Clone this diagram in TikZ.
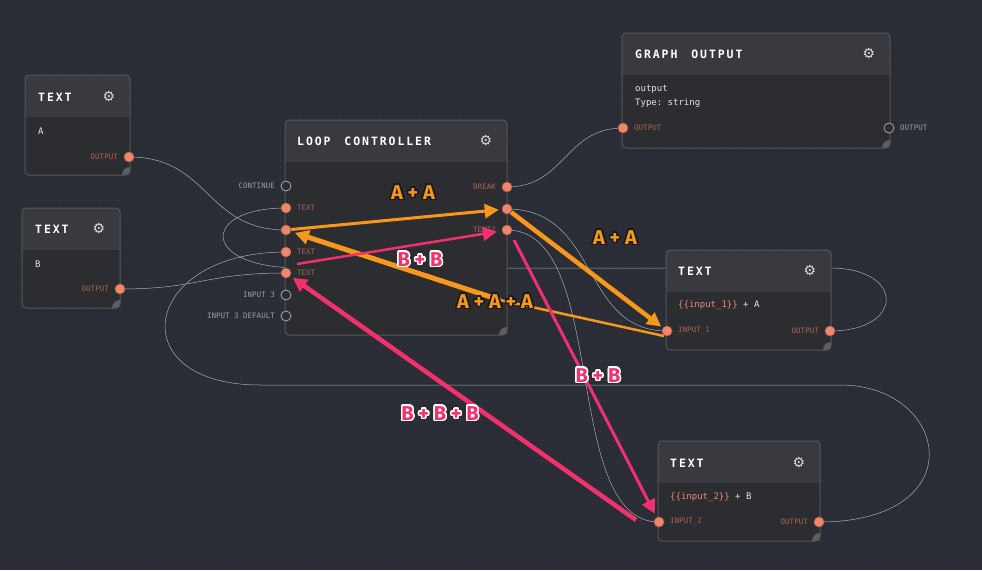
\documentclass[tikz,border=0pt]{standalone}
\usepackage{fontspec}
\setmonofont{DejaVu Sans Mono}
\newfontfamily\lbl{Fira Sans}
\newfontfamily\sym{DejaVu Sans}
\usepackage{contour}
\contournumber{20}
\contourlength{1.5pt}
\usetikzlibrary{arrows.meta}
\definecolor{bg}{HTML}{2A2D35}
\definecolor{nbody}{HTML}{2C2D31}
\definecolor{nhead}{HTML}{393A3E}
\definecolor{nborder}{HTML}{55565A}
\definecolor{port}{HTML}{F0876A}
\definecolor{plab}{HTML}{A8644E}
\definecolor{glab}{HTML}{9A9CA2}
\definecolor{org}{HTML}{F7981D}
\definecolor{pnk}{HTML}{F2306C}
\definecolor{wire}{HTML}{A9ABB0}
\definecolor{ink}{HTML}{1A1A1A}
\begin{document}
\begin{tikzpicture}[x=1pt,y=-1pt,
  title/.style={font=\ttfamily\bfseries\fontsize{11.5}{12}\selectfont,text=white,anchor=west,inner sep=0},
  body/.style={font=\ttfamily\fontsize{9}{10}\selectfont,text=white!90!black,anchor=west,inner sep=0},
  tl/.style={font=\ttfamily\fontsize{7.5}{8}\selectfont,text=plab,inner sep=0},
  gl/.style={font=\ttfamily\fontsize{7.5}{8}\selectfont,text=glab,inner sep=0},
  pin/.style={circle,fill=port,draw=port!70!black,line width=0.6pt,minimum size=10pt,inner sep=0},
  pout/.style={circle,fill=nbody,draw=glab,line width=0.9pt,minimum size=10pt,inner sep=0},
  gear/.style={font=\sym\fontsize{14}{14}\selectfont,text=white!85!black,inner sep=0},
  wr/.style={draw=wire,line width=0.5pt},
  oa/.style={draw=org,line width=#1,-{Triangle[length=14pt,width=14pt]}},
  pa/.style={draw=pnk,line width=#1,-{Triangle[length=14pt,width=14pt]}},
  al/.style={font=\lbl\bfseries\fontsize{20}{20}\selectfont,inner sep=0}]
\useasboundingbox (0,0) rectangle (982,570);
\fill[bg] (0,0) rectangle (982,570);
\foreach \x in {0,20,...,980} \draw[white,opacity=0.025] (\x,0)--(\x,570);
\foreach \y in {0,20,...,560} \draw[white,opacity=0.025] (0,\y)--(982,\y);
\newcommand\nd[6]{%
  \fill[nbody,rounded corners=4pt] (#1,#2) rectangle (#3,#4);
  \begin{scope}
  \clip[rounded corners=4pt] (#1,#2) rectangle (#3,#4);
  \fill[nhead] (#1,#2) rectangle (#3,#5);
  \fill[glab!60!black] (#3,#4) circle (8pt);
  \end{scope}
  \draw[nborder,line width=1pt,rounded corners=4pt] (#1,#2) rectangle (#3,#4);
  \coordinate (#6) at (#1,#2);}
% wires
\coordinate (w1) at (830,268);
\coordinate (w2) at (300,268);
\coordinate (w3) at (840,385);
\coordinate (w4) at (260,385);
\draw[wr] (129,157) .. controls (210,157) and (205,230) .. (286,230);
\draw[wr] (120,289) .. controls (200,289) and (205,273) .. (286,273);
\draw[wr] (507,187) .. controls (565,187) and (565,128) .. (623,128);
\draw[wr] (507,209) .. controls (600,209) and (580,331) .. (667,331);
\draw[wr] (507,230) .. controls (610,230) and (560,522) .. (659,522);
\draw[wr] (830,331) .. controls (905,331) and (905,268) .. (w1) -- (w2) .. controls (200,268) and (200,208) .. (286,208);
\draw[wr] (819,522) .. controls (975,522) and (950,385) .. (w3) -- (w4) .. controls (120,385) and (140,252) .. (286,252);
% nodes
\nd{25}{75}{130}{175}{117}{na}
\nd{22}{208}{120}{308}{250}{nb}
\nd{285}{120}{507}{335}{162}{nl}
\nd{622}{33}{890}{148}{75}{ng}
\nd{666}{250}{831}{350}{292}{n1}
\nd{658}{441}{820}{541}{483}{n2}
\node[title] (ta) at (38,97) {T\,E\,X\,T};
\node[gear] (ga) at (109,97) {⚙};
\node[body] (va) at (38,131) {A};
\node[title] (tb) at (35,229) {T\,E\,X\,T};
\node[gear] (gb) at (99,229) {⚙};
\node[body] (vb) at (35,264) {B};
\node[title] (tlp) at (297,141) {L\,O\,O\,P\ \ C\,O\,N\,T\,R\,O\,L\,L\,E\,R};
\node[gear] (glp) at (486,141) {⚙};
\node[title] (tg) at (635,54) {G\,R\,A\,P\,H\ \ O\,U\,T\,P\,U\,T};
\node[gear] (gg) at (869,54) {⚙};
\node[body] (vg1) at (635,89) {output};
\node[body] (vg2) at (635,103) {Type: string};
\node[title] (t1) at (678,271) {T\,E\,X\,T};
\node[gear] (g1) at (810,271) {⚙};
\node[body] (v1) at (678,305) {\textcolor{port}{\{\{input\_1\}\}} + A};
\node[title] (t2) at (670,463) {T\,E\,X\,T};
\node[gear] (g2) at (799,463) {⚙};
\node[body] (v2) at (670,497) {\textcolor{port}{\{\{input\_2\}\}} + B};
% ports
\node[pin] (aout) at (129,157) {};
\node[tl,anchor=east] at (118,157) {OUTPUT};
\node[pin] (bout) at (120,289) {};
\node[tl,anchor=east] at (109,289) {OUTPUT};
\node[pout] (lcont) at (286,186) {};
\node[gl,anchor=east] at (275,186) {CONTINUE};
\node[pin] (lt1) at (286,208) {};
\node[tl,anchor=west] at (297,208) {TEXT};
\node[pin] (lx) at (286,230) {};
\node[pin] (lt2) at (286,252) {};
\node[tl,anchor=west] at (297,252) {TEXT};
\node[pin] (lt3) at (286,273) {};
\node[tl,anchor=west] at (297,273) {TEXT};
\node[pout] (li3) at (286,295) {};
\node[gl,anchor=east] at (275,295) {INPUT 3};
\node[pout] (li3d) at (286,316) {};
\node[gl,anchor=east] at (275,316) {INPUT 3 DEFAULT};
\node[pin] (lbrk) at (507,187) {};
\node[tl,anchor=east] at (496,187) {BREAK};
\node[pin] (lr2) at (507,209) {};
\node[pin] (ltq) at (507,230) {};
\node[tl,anchor=east] at (496,230) {TEXT?};
\node[pin] (gin) at (623,128) {};
\node[tl,anchor=west] at (634,128) {OUTPUT};
\node[pout] (gout) at (889,128) {};
\node[gl,anchor=west] at (900,128) {OUTPUT};
\node[pin] (i1) at (667,331) {};
\node[tl,anchor=west] at (678,331) {INPUT\_1};
\node[pin] (o1) at (830,331) {};
\node[tl,anchor=east] at (819,331) {OUTPUT};
\node[pin] (i2) at (659,522) {};
\node[tl,anchor=west] at (670,522) {INPUT\_2};
\node[pin] (o2) at (819,522) {};
\node[tl,anchor=east] at (808,522) {OUTPUT};
% colored arrows
\coordinate (c1) at (514,240);
\coordinate (c2) at (636,520);
\coordinate (c3) at (297,264);
\coordinate (c4) at (500,300);
\draw[oa=3pt,shorten >=3pt] (lx) -- (lr2);
\draw[oa=4.5pt,shorten >=2pt] (lr2) -- (i1);
\draw[org,line width=2.5pt] (664,336) -- (c4);
\draw[oa=5pt,shorten >=4pt] (c4) -- (lx);
\draw[pa=2.5pt,shorten >=5pt] (c3) -- (ltq);
\draw[pa=3pt,shorten >=4pt] (c1) -- (i2);
\draw[pa=4.5pt,shorten >=3pt] (c2) -- (lt3);
% labels
\node[al] (l1) at (413,193) {\contour{ink}{\textcolor{org}{A + A}}};
\node[al] (l2) at (615,238) {\contour{ink}{\textcolor{org}{A + A}}};
\node[al] (l3) at (495,302) {\contour{ink}{\textcolor{org}{A + A + A}}};
\node[al] (l4) at (420,260) {\contour{white}{\textcolor{pnk}{B + B}}};
\node[al] (l5) at (598,376) {\contour{white}{\textcolor{pnk}{B + B}}};
\node[al] (l6) at (440,414) {\contour{white}{\textcolor{pnk}{B + B + B}}};
\end{tikzpicture}
\end{document}
